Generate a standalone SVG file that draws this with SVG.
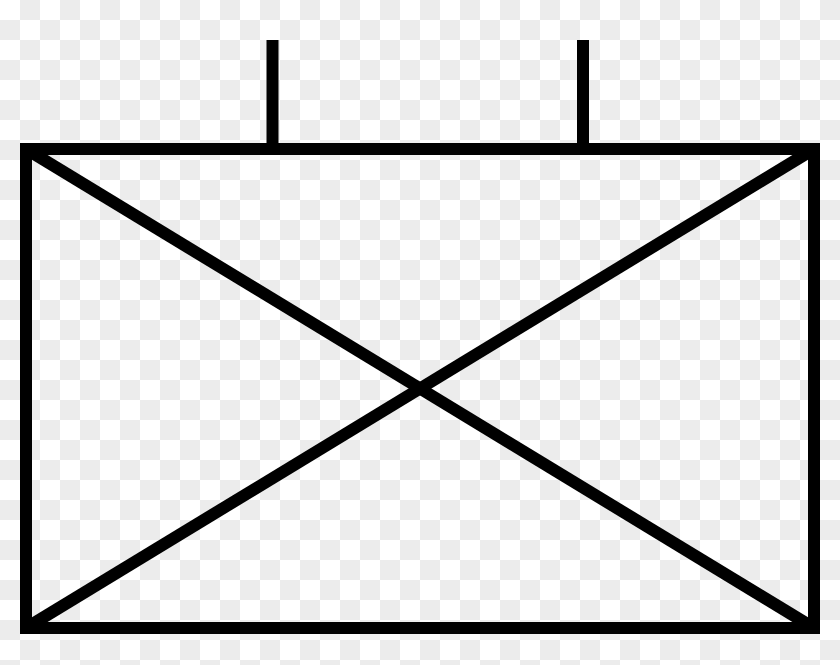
<svg xmlns="http://www.w3.org/2000/svg" width="840" height="665" viewBox="0 0 840 665">
  <defs>
    <pattern id="checker" x="0" y="0" width="40" height="40" patternUnits="userSpaceOnUse">
      <rect width="40" height="40" fill="#ffffff"/>
      <rect x="20" y="0" width="20" height="20" fill="#ececec"/>
      <rect x="0" y="20" width="20" height="20" fill="#ececec"/>
    </pattern>
  </defs>
  <style>
    .ln { stroke: #000000; stroke-width: 12; fill: none; }
  </style>
  <rect x="0" y="0" width="840" height="665" fill="url(#checker)"/>
  <g id="symbol">
    <line class="ln" x1="272.5" y1="40" x2="272.5" y2="150"/>
    <line class="ln" x1="583" y1="40" x2="583" y2="150"/>
    <line class="ln" x1="26" y1="149" x2="814" y2="628"/>
    <line class="ln" x1="814" y1="149" x2="26" y2="628"/>
    <rect class="ln" x="26" y="149" width="788" height="479"/>
  </g>
</svg>
